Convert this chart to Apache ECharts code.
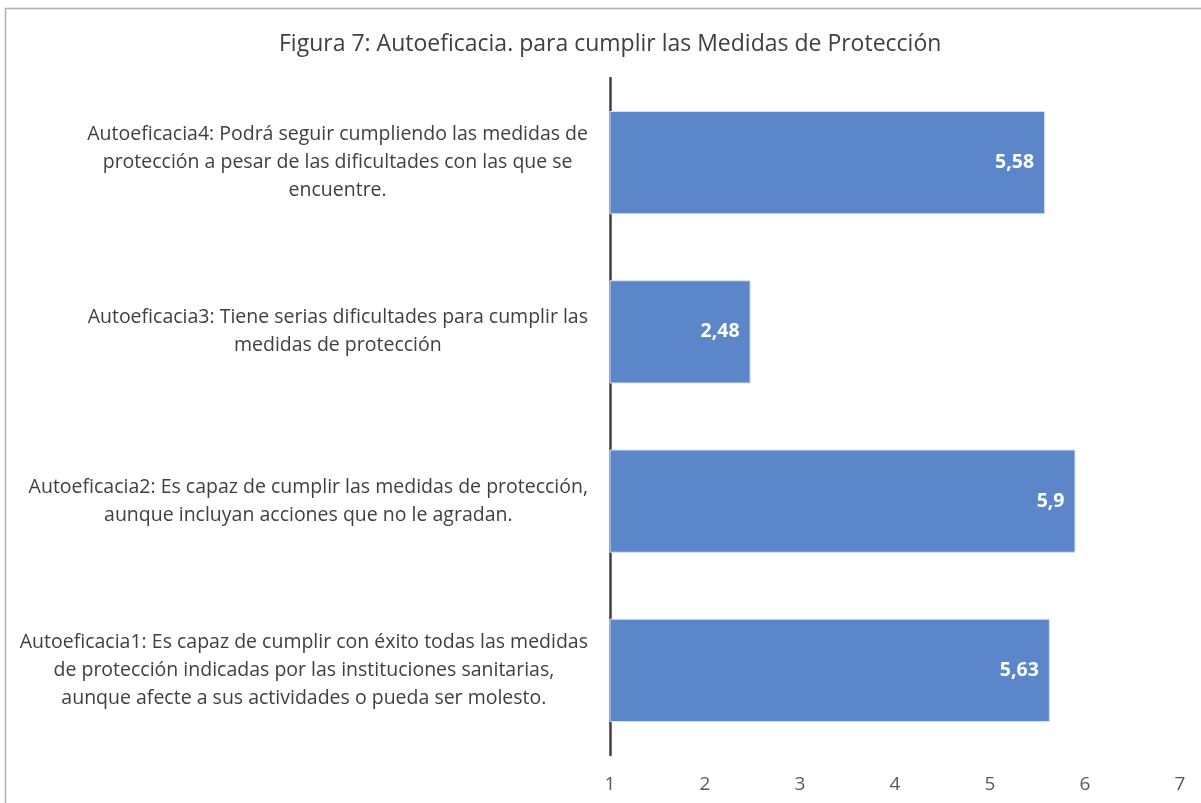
<!DOCTYPE html>
<html>
<head>
<meta charset="utf-8">
<script src="https://cdn.jsdelivr.net/npm/echarts@6/dist/echarts.min.js"></script>
<style>
html,body{margin:0;padding:0;background:#fff;}
#chart{width:1201px;height:803px;}
</style>
</head>
<body>
<div id="chart"></div>
<script>
const title = "Figura 7: Autoeficacia. para cumplir las Medidas de Protección";
const categories = [
  "Autoeficacia1: Es capaz de cumplir con éxito todas las medidas\nde protección indicadas por las instituciones sanitarias,\naunque afecte a sus actividades o pueda ser molesto.",
  "Autoeficacia2: Es capaz de cumplir las medidas de protección,\naunque incluyan acciones que no le agradan.",
  "Autoeficacia3: Tiene serias dificultades para cumplir las\nmedidas de protección",
  "Autoeficacia4: Podrá seguir cumpliendo las medidas de\nprotección a pesar de las dificultades con las que se\nencuentre."
];
const values = [5.63, 5.9, 2.48, 5.58];
const xTicks = [1, 2, 3, 4, 5, 6, 7];

const FONT = '"Open Sans", "Noto Sans", sans-serif';
const chart = echarts.init(document.getElementById('chart'), null, {renderer: 'canvas'});
chart.setOption({
  backgroundColor: '#fff',
  animation: false,
  title: {
    text: title,
    left: 274,
    top: 28,
    textStyle: {fontFamily: FONT, fontSize: 23, fontWeight: 'normal', color: '#404040'}
  },
  graphic: [{
    type: 'rect',
    shape: {x: 5.5, y: 8.5, width: 1300, height: 900},
    style: {fill: 'none', stroke: '#b0b0b0', lineWidth: 1.5},
    silent: true
  }],
  grid: {left: 610, right: 21, top: 78, bottom: 48, containLabel: false},
  xAxis: {
    type: 'value',
    min: xTicks[0],
    max: xTicks[xTicks.length - 1],
    interval: 1,
    axisLine: {show: false},
    axisTick: {show: false},
    splitLine: {show: false},
    axisLabel: {
      margin: 20,
      fontFamily: FONT, fontSize: 19, color: '#595959',
      formatter: v => String(v)
    }
  },
  yAxis: {
    type: 'category',
    data: categories,
    axisLine: {show: true, lineStyle: {color: '#404040', width: 2.5}},
    axisTick: {show: false},
    axisLabel: {
      margin: 22,
      align: 'right',
      fontFamily: FONT, fontSize: 19.5, color: '#404040',
      lineHeight: 28,
      formatter: v => v.split('\n').map(l => '{c|' + l + '}').join('\n'),
      rich: {c: {align: 'center', fontFamily: FONT, fontSize: 19.5, color: '#404040', lineHeight: 28}}
    }
  },
  series: [{
    type: 'bar',
    data: values,
    barCategoryGap: '39%',
    itemStyle: {color: '#5B87CA', borderColor: '#d6e0f0', borderWidth: 1},
    label: {
      show: true,
      position: 'insideRight',
      distance: 11,
      color: '#fff',
      fontFamily: FONT,
      fontWeight: 'bold',
      fontSize: 19.5,
      formatter: p => String(p.value).replace('.', ',')
    }
  }]
});
</script>
</body>
</html>
